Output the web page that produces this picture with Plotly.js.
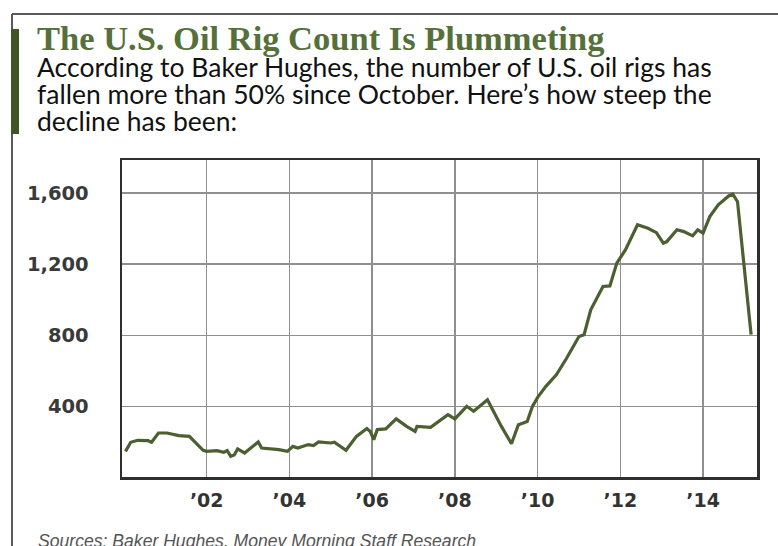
<!DOCTYPE html>
<html>
<head>
<meta charset="utf-8">
<script src="https://cdn.plot.ly/plotly-3.0.1.min.js"></script>
<style>html,body{margin:0;padding:0;background:#fff;}#chart{width:778px;height:546px;}</style>
</head>
<body>
<div id="chart"></div>
<script>
// ---- data ----
const dates = [
  "2000-01-15","2000-03-01","2000-05-01","2000-08-01","2000-09-01","2000-11-01",
  "2001-01-15","2001-05-01","2001-08-01","2001-12-01",
  "2002-01-01","2002-04-01","2002-06-01","2002-07-01","2002-08-01","2002-09-01","2002-10-01","2002-12-01",
  "2003-04-01","2003-05-01","2003-10-01","2003-12-15",
  "2004-02-01","2004-03-15","2004-06-15","2004-08-01","2004-09-15",
  "2005-01-01","2005-02-01","2005-05-15","2005-08-15","2005-11-15","2005-12-15",
  "2006-01-15","2006-02-15","2006-05-01","2006-08-01","2006-11-01",
  "2007-01-15","2007-02-01","2007-06-01","2007-08-15","2007-11-01",
  "2008-01-01","2008-04-15","2008-06-15","2008-10-15",
  "2009-02-15","2009-05-15","2009-07-15","2009-10-01","2009-11-15",
  "2010-01-01","2010-03-15","2010-06-15","2010-09-15",
  "2011-01-01","2011-02-15","2011-04-15","2011-08-01","2011-10-01","2011-12-01",
  "2012-02-15","2012-06-01","2012-09-01","2012-11-15",
  "2013-01-15","2013-02-15","2013-05-15","2013-07-15","2013-10-01","2013-11-15",
  "2014-01-01","2014-03-01","2014-05-15","2014-08-15","2014-09-20","2014-11-01",
  "2015-03-01"
];
const rigs = [
  149,200,211,209,200,252,
  252,237,233,155,
  149,153,144,153,121,129,163,140,
  202,168,159,149,
  177,168,187,181,202,
  196,200,155,233,277,261,
  215,271,275,331,289,
  261,289,284,317,355,
  331,402,374,439,
  289,192,299,317,400,
  452,514,579,673,
  794,804,944,1075,1078,1206,
  1280,1421,1402,1377,
  1318,1327,1393,1383,1359,1393,
  1374,1467,1533,1583,1594,1551,
  804
];
const xTickVals = ["2002-01-01","2004-01-01","2006-01-01","2008-01-01","2010-01-01","2012-01-01","2014-01-01"];
const xTickText = ["\u201902","\u201904","\u201906","\u201908","\u201910","\u201912","\u201914"];
const yTickVals = [400, 800, 1200, 1600];

const titleText = "The U.S. Oil Rig Count Is Plummeting";
const subtitleLines = [
  "According to Baker Hughes, the number of U.S. oil rigs has",
  "fallen more than 50% since October. Here\u2019s how steep the",
  "decline has been:"
];
const sourceText = "<i>Sources: Baker Hughes, Money Morning Staff Research</i>";

// ---- layout helpers (pixel -> paper) ----
const W = 778, H = 546;
const M = {l: 122, r: 21, t: 160, b: 69};
const pw = W - M.l - M.r, ph = H - M.t - M.b;
const px = x => (x - M.l) / pw;
const py = y => (H - M.b - y) / ph;

const trace = {
  x: dates, y: rigs, type: "scatter", mode: "lines",
  line: {color: "#4b5f30", width: 3.2},
  hoverinfo: "x+y"
};

const annotations = [
  {text: titleText, xref: "paper", yref: "paper", x: px(35), y: py(17), xanchor: "left", yanchor: "top",
   showarrow: false, font: {family: "Liberation Serif", size: 34.5, color: "#557039", weight: "bold"}},
  ...subtitleLines.map((t, i) => ({
    text: t, xref: "paper", yref: "paper", x: px(35), y: py(49 + i * 27), xanchor: "left", yanchor: "top",
    showarrow: false, font: {family: "Lato", size: 26.5, color: "#111"}
  })),
  {text: sourceText, xref: "paper", yref: "paper", x: px(36), y: py(529), xanchor: "left", yanchor: "top",
   showarrow: false, font: {family: "Liberation Sans", size: 17.6, color: "#555"}}
];

const shapes = [
  {type: "line", xref: "paper", yref: "paper", x0: px(12), x1: px(778), y0: py(14), y1: py(14),
   line: {color: "#5a5a5a", width: 2}},
  {type: "line", xref: "paper", yref: "paper", x0: px(12), x1: px(12), y0: py(14), y1: py(546),
   line: {color: "#5a5a5a", width: 2}},
  {type: "rect", xref: "paper", yref: "paper", x0: px(11), x1: px(19), y0: py(29), y1: py(134),
   fillcolor: "#3d5624", line: {width: 0}}
];

const layout = {
  width: W, height: H,
  margin: M,
  paper_bgcolor: "#fff", plot_bgcolor: "#fff",
  showlegend: false,
  xaxis: {
    type: "date", range: ["1999-12-15", "2015-04-22"],
    tickvals: xTickVals, ticktext: xTickText,
    showgrid: true, gridcolor: "#8f8f8f", gridwidth: 1.5,
    showline: true, linecolor: "#2e2e2e", linewidth: 2.5, mirror: true,
    ticks: "", ticklabelstandoff: 5,
    tickfont: {family: "DejaVu Sans", size: 19, color: "#333", weight: "bold"},
    zeroline: false
  },
  yaxis: {
    range: [5, 1785],
    tickvals: yTickVals, tickformat: ",",
    showgrid: true, gridcolor: "#8f8f8f", gridwidth: 1.5,
    showline: true, linecolor: "#2e2e2e", linewidth: 2.5, mirror: true,
    ticks: "", ticklabelstandoff: 27,
    tickfont: {family: "DejaVu Sans", size: 19.5, color: "#3a3a3a", weight: "bold"},
    zeroline: false
  },
  annotations: annotations,
  shapes: shapes
};

Plotly.newPlot("chart", [trace], layout, {displayModeBar: false, staticPlot: true});
</script>
</body>
</html>
